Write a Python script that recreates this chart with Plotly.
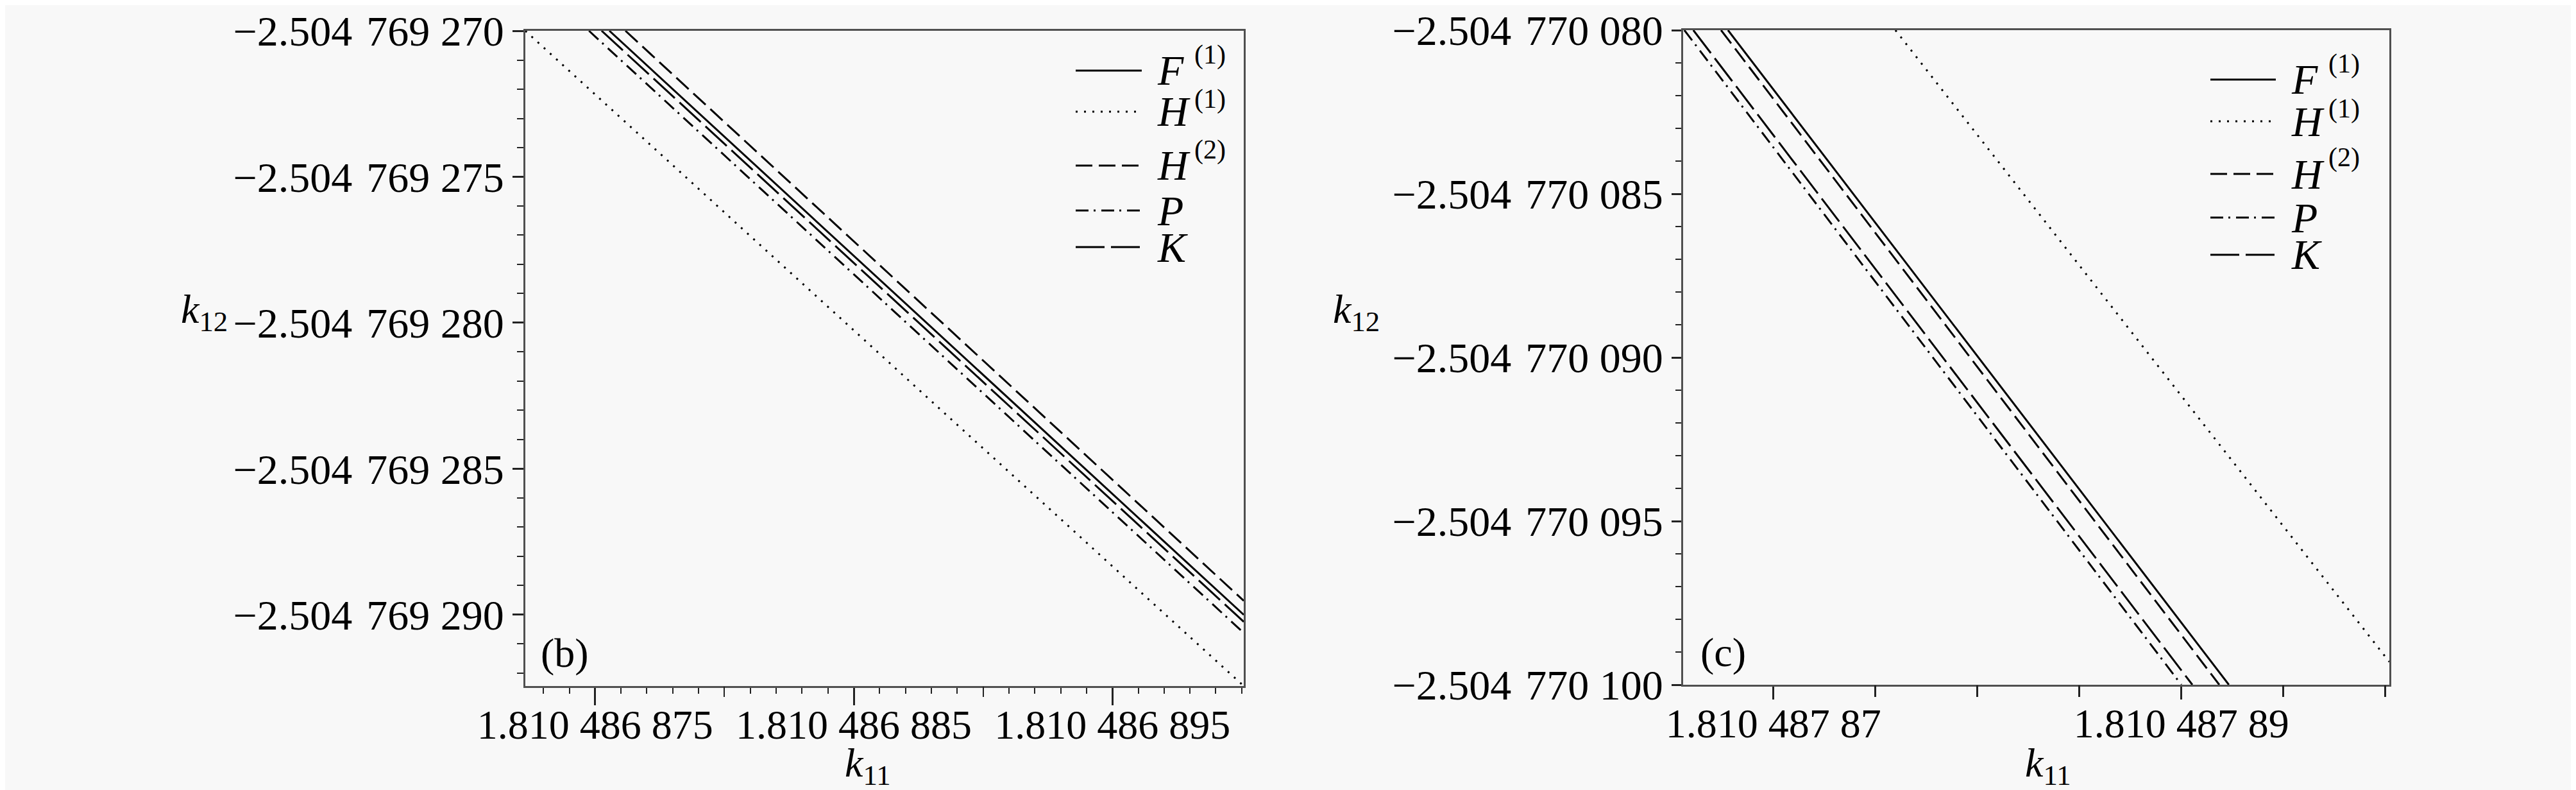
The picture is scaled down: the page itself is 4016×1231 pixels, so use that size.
import plotly.graph_objects as go

W, H = 4016, 1231

# ---------------- data ----------------
series_names = ["F(1)", "H(1)", "H(2)", "P", "K"]

# panel (b)
b_F_x = [1.81048687555, 1.81048690008]
b_F_y = [-2.50476927000, -2.50476929000]
b_H1_x = [1.81048687230, 1.81048690008]
b_H1_y = [-2.50476927000, -2.50476929244]
b_H2_x = [1.81048687617, 1.81048690008]
b_H2_y = [-2.50476927000, -2.50476928952]
b_P_x = [1.81048687476, 1.81048690008]
b_P_y = [-2.50476927000, -2.50476929062]
b_K_x = [1.81048687525, 1.81048690008]
b_K_y = [-2.50476927000, -2.50476929024]

# panel (c)
c_F_x = [1.81048786777, 1.81048789233]
c_F_y = [-2.504770080, -2.504770100]
c_H1_x = [1.81048787598, 1.81048790020]
c_H1_y = [-2.504770080, -2.5047700993]
c_H2_x = [1.81048786743, 1.81048789186]
c_H2_y = [-2.504770080, -2.504770100]
c_P_x = [1.81048786563, 1.81048789000]
c_P_y = [-2.504770080, -2.504770100]
c_K_x = [1.81048786607, 1.81048789054]
c_K_y = [-2.504770080, -2.504770100]

# tick labels
b_xtick_vals = [1.810486875, 1.810486885, 1.810486895]
b_xtick_text = ["1.810 486 875", "1.810 486 885", "1.810 486 895"]
b_ytick_vals = [-2.504769270, -2.504769275, -2.504769280, -2.504769285, -2.504769290]
b_ytick_text = ["\u22122.504\u2004769 270", "\u22122.504\u2004769 275", "\u22122.504\u2004769 280",
                "\u22122.504\u2004769 285", "\u22122.504\u2004769 290"]
c_xtick_vals = [1.81048787, 1.81048789]
c_xtick_text = ["1.810 487 87", "1.810 487 89"]
c_ytick_vals = [-2.504770080, -2.504770085, -2.504770090, -2.504770095, -2.504770100]
c_ytick_text = ["\u22122.504\u2004770 080", "\u22122.504\u2004770 085", "\u22122.504\u2004770 090",
                "\u22122.504\u2004770 095", "\u22122.504\u2004770 100"]

# ---------------- styles ----------------
dash_styles = {"F(1)": "solid", "H(1)": "3px,10px", "H(2)": "26px,10px",
               "P": "20px,8px,3px,9px", "K": "45px,10px"}
FONT = "Liberation Serif"
BG = "#f8f8f8"
AXC = "#505050"
TICKC = "#222222"

b_data = {"F(1)": (b_F_x, b_F_y), "H(1)": (b_H1_x, b_H1_y), "H(2)": (b_H2_x, b_H2_y),
          "P": (b_P_x, b_P_y), "K": (b_K_x, b_K_y)}
c_data = {"F(1)": (c_F_x, c_F_y), "H(1)": (c_H1_x, c_H1_y), "H(2)": (c_H2_x, c_H2_y),
          "P": (c_P_x, c_P_y), "K": (c_K_x, c_K_y)}

fig = go.Figure()
for name in series_names:
    x, y = b_data[name]
    fig.add_trace(go.Scatter(x=x, y=y, mode="lines", xaxis="x", yaxis="y", showlegend=False,
                             line=dict(color="black", width=3, dash=dash_styles[name]), hoverinfo="skip"))
for name in series_names:
    x, y = c_data[name]
    fig.add_trace(go.Scatter(x=x, y=y, mode="lines", xaxis="x2", yaxis="y2", showlegend=False,
                             line=dict(color="black", width=3, dash=dash_styles[name]), hoverinfo="skip"))
# empty traces carrying the unlabeled-tick overlay axes
fig.add_trace(go.Scatter(x=[], y=[], xaxis="x3", yaxis="y", showlegend=False, hoverinfo="skip"))
fig.add_trace(go.Scatter(x=[], y=[], xaxis="x4", yaxis="y2", showlegend=False, hoverinfo="skip"))

def px_x(p):
    return p / W

def px_y(p):
    return 1 - p / H

b_xr = [1.8104868723, 1.81048690008]
b_yr = [-2.50476929244, -2.504769270]
c_xr = [1.81048786557, 1.8104879002]
c_yr = [-2.504770100, -2.504770080]

xfont = dict(family=FONT, size=64, color="black")
yfont = dict(family=FONT, size=66, color="black")
common = dict(showgrid=False, zeroline=False, showline=True, linecolor=AXC, linewidth=3,
              mirror=True, ticks="outside", tickcolor=TICKC, tickwidth=3,
              tickmode="array", automargin=False)
overlay = dict(showgrid=False, zeroline=False, showline=False, ticks="outside", tickwidth=2,
               tickcolor=TICKC, tickmode="array", showticklabels=False, automargin=False)

b_xminor = [round(1.810486873 + k * 1e-9, 12) for k in range(0, 28)]
b_yminor = [round(-2.504769270 - k * 1e-9, 12) for k in range(0, 23)]
c_yminor = [round(-2.504770080 - k * 1e-9, 12) for k in range(0, 21)]

fig.update_layout(
    template="none",
    width=W, height=H, paper_bgcolor=BG, plot_bgcolor=BG,
    font=dict(family=FONT, color="black"),
    margin=dict(l=0, r=0, t=0, b=0, pad=0),
    xaxis=dict(common, domain=[px_x(811), px_x(1931)], range=b_xr, anchor="y",
               tickvals=b_xtick_vals, ticktext=b_xtick_text, ticklen=27, tickfont=xfont,
               ticklabelstandoff=-25,
               minor=dict(tickmode="array", tickvals=b_xminor, ticks="outside", ticklen=9,
                          tickwidth=2, tickcolor=TICKC)),
    yaxis=dict(common, domain=[px_y(1061), px_y(40)], range=b_yr, anchor="x",
               tickvals=b_ytick_vals, ticktext=b_ytick_text, ticklen=17, tickfont=yfont,
               minor=dict(tickmode="array", tickvals=b_yminor, ticks="outside", ticklen=10,
                          tickwidth=2, tickcolor=TICKC)),
    xaxis3=dict(overlay, overlaying="x", anchor="y", range=b_xr, ticklen=16,
                tickvals=[1.81048688, 1.81048689]),
    xaxis2=dict(common, domain=[px_x(2616), px_x(3717)], range=c_xr, anchor="y2",
                tickvals=c_xtick_vals, ticktext=c_xtick_text, ticklen=20, tickfont=xfont,
                ticklabelstandoff=-18),
    xaxis4=dict(overlay, overlaying="x2", anchor="y2", range=c_xr, ticklen=18, tickwidth=3,
                tickvals=[1.810487875, 1.81048788, 1.810487885, 1.810487895, 1.8104879]),
    yaxis2=dict(common, domain=[px_y(1059), px_y(39)], range=c_yr, anchor="x2",
                tickvals=c_ytick_vals, ticktext=c_ytick_text, ticklen=15, tickfont=yfont,
                minor=dict(tickmode="array", tickvals=c_yminor, ticks="outside", ticklen=9,
                           tickwidth=2, tickcolor=TICKC)),
)

annotations = []
shapes = []

def add_text(x, y, text, size, xanchor="center", yanchor="middle"):
    annotations.append(dict(x=px_x(x), y=px_y(y), xref="paper", yref="paper", text=text,
                            showarrow=False, xanchor=xanchor, yanchor=yanchor,
                            font=dict(family=FONT, size=size, color="black")))

# axis titles and panel labels
add_text(310, 478, "<i>k</i><sub>12</sub>", 64)
add_text(2106, 478, "<i>k</i><sub>12</sub>", 64)
add_text(1345, 1185, "<i>k</i><sub>11</sub>", 64)
add_text(3185, 1185, "<i>k</i><sub>11</sub>", 64)
add_text(872, 1009, "(b)", 64)
add_text(2678, 1008, "(c)", 64)

# legends
legend_letters = {"F(1)": ("F", "(1)"), "H(1)": ("H", "(1)"), "H(2)": ("H", "(2)"),
                  "P": ("P", None), "K": ("K", None)}
sup_offsets = {"F(1)": -24, "H(1)": -20, "H(2)": -25}
for (x0, x1, tx, rows) in [(1669, 1772, 1794, [102, 166, 250, 320, 377]),
                           (3438, 3540, 3562, [116, 181, 263, 331, 389])]:
    for name, ry in zip(series_names, rows):
        shapes.append(dict(type="line", xref="paper", yref="paper", x0=px_x(x0), x1=px_x(x1),
                           y0=px_y(ry), y1=px_y(ry),
                           line=dict(color="black", width=3, dash=dash_styles[name])))
        letter, sup = legend_letters[name]
        add_text(tx, ry, "<i>%s</i>" % letter, 66, xanchor="left")
        if sup:
            add_text(tx + 58, ry + sup_offsets[name], sup, 42, xanchor="left")

fig.update_layout(annotations=annotations, shapes=shapes)
fig.write_html("out.html")
